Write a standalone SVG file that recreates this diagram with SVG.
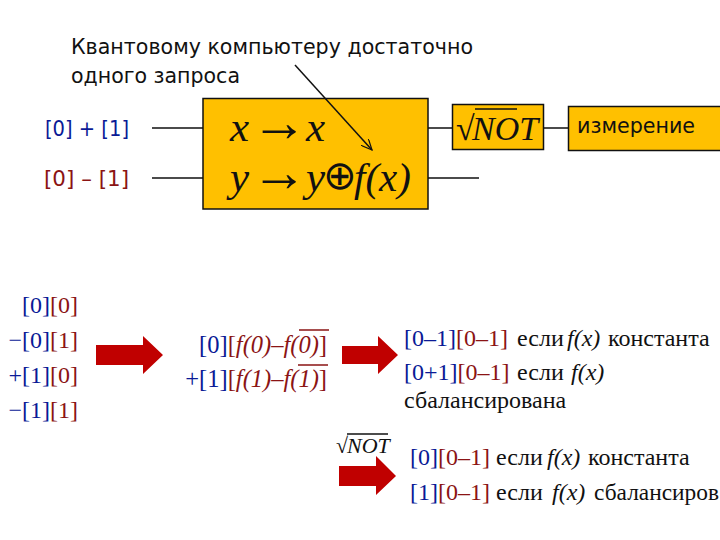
<svg xmlns="http://www.w3.org/2000/svg" width="720" height="540" viewBox="0 0 720 540">
<style>
.s{font-family:"DejaVu Sans","Liberation Sans",sans-serif;font-size:21px;fill:#111}
.t{font-family:"Liberation Serif",serif;font-size:24px;fill:#111}
.b{fill:#0a1a96}.r{fill:#8b1414}.i{font-style:italic}
.f{font-family:"Liberation Serif",serif;font-style:italic;font-size:43px;fill:#111}
.o{font-family:"DejaVu Sans",sans-serif;font-style:normal}
.a{font-family:"Liberation Serif",serif;font-style:normal;font-size:56px}
.box{fill:#ffc000;stroke:#111;stroke-width:1.5}
.w{stroke:#111;stroke-width:1.5;fill:none}
.ar{fill:#c00000}
.ov{stroke:#8b1414;stroke-width:1.5;fill:none}
</style>
<defs><marker id="h" markerWidth="12" markerHeight="10" refX="11" refY="5" orient="auto" markerUnits="userSpaceOnUse"><path d="M0 0L11 5L0 10" fill="none" stroke="#111" stroke-width="1.2"/></marker></defs>
<g id="note"><text class="s" x="71" y="54" textLength="402" lengthAdjust="spacingAndGlyphs">Квантовому компьютеру достаточно</text>
<text class="s" x="71" y="83" textLength="169" lengthAdjust="spacingAndGlyphs">одного запроса</text></g>
<g id="input-x"><text class="s b" x="45" y="136" textLength="84" lengthAdjust="spacingAndGlyphs">[0] + [1]</text></g>
<g id="input-y"><text class="s r" x="44" y="186" textLength="85" lengthAdjust="spacingAndGlyphs">[0] – [1]</text></g>
<g id="oracle"><rect class="box" x="203" y="98.500" width="225" height="110.500"/>
<text class="f" y="141"><tspan x="230">x</tspan><tspan class="a" x="251">→</tspan><tspan x="306">x</tspan></text>
<text class="f" y="191"><tspan x="230">y</tspan><tspan class="a" x="251">→</tspan><tspan x="306">y</tspan><tspan class="o" x="323" dy="-2" style="font-size:40px">⊕</tspan><tspan x="354" dy="2" style="font-size:41px">f(x)</tspan></text></g>
<g id="sqrt-not"><rect class="box" x="452.500" y="104.500" width="91" height="45"/>
<text class="f" y="140" style="font-size:34px"><tspan x="456" font-style="normal">√</tspan><tspan x="472">NOT</tspan></text><path d="M475 109H517" class="w"/></g>
<g id="measure"><rect class="box" x="568.500" y="106.500" width="153" height="44"/>
<text class="s" x="577" y="133" textLength="118" lengthAdjust="spacingAndGlyphs">измерение</text></g>
<g id="state-expanded">
<text class="t" x="78" y="313" text-anchor="end"><tspan class="b">[0]</tspan><tspan class="r">[0]</tspan></text>
<text class="t" x="78" y="348" text-anchor="end"><tspan class="b">−[0]</tspan><tspan class="r">[1]</tspan></text>
<text class="t" x="78" y="383" text-anchor="end"><tspan class="b">+[1]</tspan><tspan class="r">[0]</tspan></text>
<text class="t" x="78" y="418" text-anchor="end"><tspan class="b">−[1]</tspan><tspan class="r">[1]</tspan></text></g>
<g id="arrow-1"><path class="ar" d="M96 345H143V336L163 355L143 374V365H96Z"/></g>
<g id="state-f">
<text class="t" x="327" y="353" text-anchor="end" style="font-size:24.500px"><tspan class="b">[0]</tspan><tspan class="r">[</tspan><tspan class="r i">f(0)–f(0)</tspan><tspan class="r">]</tspan></text>
<text class="t" x="327" y="387" text-anchor="end" style="font-size:24.500px"><tspan class="b">+[1]</tspan><tspan class="r">[</tspan><tspan class="r i">f(1)–f(1)</tspan><tspan class="r">]</tspan></text>
<path class="ov" d="M299 330H329M298 365H328"/></g>
<g id="arrow-2"><path class="ar" d="M342 346H378V336L398 355L378 374V364H342Z"/></g>
<g id="result-1">
<text class="t" x="404" y="346"><tspan class="b">[0–1]</tspan><tspan class="r">[0–1]</tspan><tspan x="517">если</tspan><tspan class="i" x="567">f(x)</tspan><tspan x="608">константа</tspan></text>
<text class="t" x="404" y="380"><tspan class="b">[0+1]</tspan><tspan class="r">[0–1]</tspan><tspan x="517">если</tspan><tspan class="i" x="571">f(x)</tspan></text>
<text class="t" x="404" y="408">сбалансирована</text></g>
<g id="not-label"><text class="f" y="453" style="font-size:22px"><tspan x="336" font-style="normal">√</tspan><tspan x="347">NOT</tspan></text><path d="M347 434H388" class="w" stroke-width="1"/></g>
<g id="arrow-3"><path class="ar" d="M339 466H376V456L396 476L376 495V486H339Z"/></g>
<g id="result-2">
<text class="t" x="410" y="465"><tspan class="b">[0]</tspan><tspan class="r">[0–1]</tspan><tspan x="496">если</tspan><tspan class="i" x="547">f(x)</tspan><tspan x="588">константа</tspan></text>
<text class="t" x="410" y="500"><tspan class="b">[1]</tspan><tspan class="r">[0–1]</tspan><tspan x="496">если</tspan><tspan class="i" x="552">f(x)</tspan></text>
<text class="t" x="594" y="500" textLength="125" lengthAdjust="spacingAndGlyphs">сбалансиров</text></g>
<g id="connectors">
<path class="w" d="M152 128H203M152 178H203M428 128H452M543 128H568M428 178H479"/>
<path class="w" d="M295 65L372 150" marker-end="url(#h)"/>
</g>
</svg>
